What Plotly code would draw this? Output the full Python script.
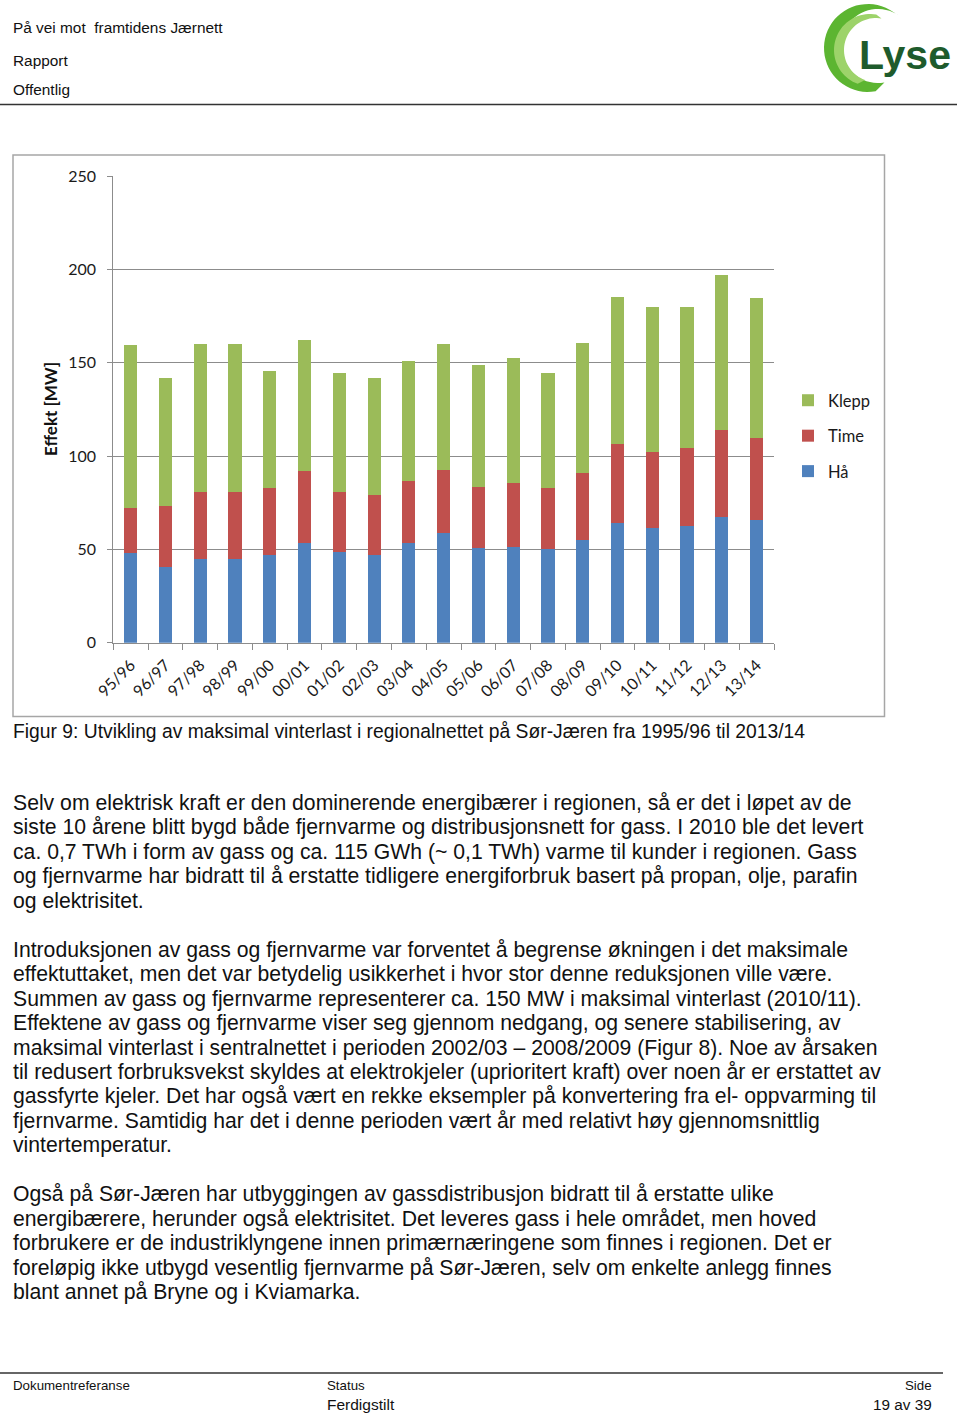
import math
import plotly.graph_objects as go

W, H = 960, 1413

seasons = ["95/96", "96/97", "97/98", "98/99", "99/00", "00/01", "01/02", "02/03", "03/04",
           "04/05", "05/06", "06/07", "07/08", "08/09", "09/10", "10/11", "11/12", "12/13", "13/14"]
ha = [47.9, 40.7, 45.0, 44.8, 47.0, 53.2, 48.6, 47.0, 53.2, 58.6,
      50.5, 51.1, 50.2, 55.0, 64.1, 61.6, 62.5, 67.3, 65.7]
time_ = [24.2, 32.5, 35.9, 36.1, 36.0, 38.8, 32.3, 32.1, 33.4, 34.1,
         32.9, 34.3, 32.8, 35.9, 42.5, 40.5, 41.6, 46.6, 44.1]
klepp = [87.4, 68.8, 79.3, 79.3, 62.5, 70.1, 63.4, 62.9, 64.3, 67.3,
         65.4, 66.9, 61.6, 69.8, 78.8, 77.5, 75.7, 83.2, 74.8]

series_names = ["Hå", "Time", "Klepp"]
series_colors = ["#4f81bd", "#c0504d", "#9bbb59"]
legend_ranks = [3, 2, 1]

header_lines = ["På vei mot  framtidens Jærnett", "Rapport", "Offentlig"]
caption = "Figur 9: Utvikling av maksimal vinterlast i regionalnettet på Sør-Jæren fra 1995/96 til 2013/14"
body_lines = [
    "Selv om elektrisk kraft er den dominerende energibærer i regionen, så er det i løpet av de",
    "siste 10 årene blitt bygd både fjernvarme og distribusjonsnett for gass. I 2010 ble det levert",
    "ca. 0,7 TWh i form av gass og ca. 115 GWh (~ 0,1 TWh) varme til kunder i regionen. Gass",
    "og fjernvarme har bidratt til å erstatte tidligere energiforbruk basert på propan, olje, parafin",
    "og elektrisitet.",
    None,
    "Introduksjonen av gass og fjernvarme var forventet å begrense økningen i det maksimale",
    "effektuttaket, men det var betydelig usikkerhet i hvor stor denne reduksjonen ville være.",
    "Summen av gass og fjernvarme representerer ca. 150 MW i maksimal vinterlast (2010/11).",
    "Effektene av gass og fjernvarme viser seg gjennom nedgang, og senere stabilisering, av",
    "maksimal vinterlast i sentralnettet i perioden 2002/03 – 2008/2009 (Figur 8). Noe av årsaken",
    "til redusert forbruksvekst skyldes at elektrokjeler (uprioritert kraft) over noen år er erstattet av",
    "gassfyrte kjeler. Det har også vært en rekke eksempler på konvertering fra el- oppvarming til",
    "fjernvarme. Samtidig har det i denne perioden vært år med relativt høy gjennomsnittlig",
    "vintertemperatur.",
    None,
    "Også på Sør-Jæren har utbyggingen av gassdistribusjon bidratt til å erstatte ulike",
    "energibærere, herunder også elektrisitet. Det leveres gass i hele området, men hoved",
    "forbrukere er de industriklyngene innen primærnæringene som finnes i regionen. Det er",
    "foreløpig ikke utbygd vesentlig fjernvarme på Sør-Jæren, selv om enkelte anlegg finnes",
    "blant annet på Bryne og i Kviamarka.",
]


def px(x):
    return x / W


def py(y):
    return 1 - y / H


fig = go.Figure()
for name, vals, col, rk in zip(series_names, [ha, time_, klepp], series_colors, legend_ranks):
    fig.add_trace(go.Bar(x=seasons, y=vals, name=name, marker_color=col,
                         marker_line_width=0, legendgroup=name, legendrank=rk))

CHART_FONT = "Lato, 'Open Sans', sans-serif"
TEXT_FONT = "'Liberation Sans', Arial, sans-serif"

fig.update_layout(
    width=W, height=H, autosize=False,
    margin=dict(l=0, r=0, t=0, b=0, pad=0, autoexpand=False),
    paper_bgcolor="white", plot_bgcolor="white",
    barmode="stack", bargap=0.62,
    font=dict(family=CHART_FONT, size=16, color="#1a1a1a"),
    legend=dict(x=px(788), y=py(383), xanchor="left", yanchor="top",
                traceorder="grouped", tracegroupgap=11,
                font=dict(family=CHART_FONT, size=16.5, color="#1a1a1a"),
                itemwidth=30, bgcolor="rgba(0,0,0,0)"),
    xaxis=dict(domain=[px(113.3), px(774)], type="category",
               tickangle=-45, ticks="outside", tickson="boundaries",
               ticklen=6, tickcolor="#8c8c8c", showline=True, linecolor="#8c8c8c",
               linewidth=1, showgrid=False, ticklabelstandoff=6,
               tickfont=dict(family=CHART_FONT, size=16, color="#1a1a1a")),
    yaxis=dict(domain=[py(642.7), py(176)], range=[0, 250], dtick=50,
               ticks="outside", ticklen=5, tickcolor="#8c8c8c",
               showline=True, linecolor="#8c8c8c", linewidth=1,
               showgrid=True, gridcolor="#8c8c8c", gridwidth=1,
               zeroline=False, ticklabelstandoff=8,
               tickfont=dict(family=CHART_FONT, size=16, color="#1a1a1a")),
)

annotations = []


def text(x, y, s, size, anchor="left", family=TEXT_FONT, color="#111111", bold=False, angle=0):
    annotations.append(dict(
        x=px(x), y=py(y), xref="paper", yref="paper", text=("<b>%s</b>" % s) if bold else s,
        showarrow=False, xanchor=anchor, yanchor="middle", textangle=angle,
        font=dict(family=family, size=size, color=color), borderpad=0))


# header
for s, y in zip(header_lines, [28, 61, 90]):
    text(12, y, s, 15.4)
# y axis title
text(50, 409, "Effekt [MW]", 17, anchor="center", family=CHART_FONT, bold=True, angle=-90)
# caption
text(12, 731, caption, 19.3)
# body
y = 803
for line in body_lines:
    if line is not None:
        text(12, y, line, 21.2)
    y += 24.45
# footer
text(12, 1385, "Dokumentreferanse", 13.3)
text(326, 1385, "Status", 13.3)
text(326, 1404, "Ferdigstilt", 15.5)
text(933, 1385, "Side", 13.3, anchor="right")
text(933, 1404, "19 av 39", 15.3, anchor="right")
# logo text
text(905, 55, "Lyse", 41, anchor="center", family="'Liberation Sans', sans-serif",
     color="#1e5b2c", bold=True)

fig.update_layout(annotations=annotations)

shapes = []
# header and footer rules
shapes.append(dict(type="line", xref="paper", yref="paper", x0=px(0), x1=px(957), y0=py(104.5), y1=py(104.5),
                   line=dict(color="#333333", width=1.5)))
shapes.append(dict(type="line", xref="paper", yref="paper", x0=px(0), x1=px(943), y0=py(1373), y1=py(1373),
                   line=dict(color="#333333", width=1.5)))
# chart border
shapes.append(dict(type="rect", xref="paper", yref="paper", x0=px(13), x1=px(884.5), y0=py(716.5), y1=py(155),
                   line=dict(color="#a6a6a6", width=1.5), fillcolor="rgba(0,0,0,0)", layer="below"))


# logo crescent (decorative)
def crescent(cx, cy, r, cx2, cy2, r2, a0, a1, n=40):
    pts = []
    for i in range(n + 1):
        a = math.radians(a0 + (a1 - a0) * i / n)
        pts.append((cx + r * math.cos(a), cy - r * math.sin(a)))
    for i in range(n + 1):
        a = math.radians(a1 + (a0 - a1) * i / n)
        pts.append((cx2 + r2 * math.cos(a), cy2 - r2 * math.sin(a)))
    d = "M " + " L ".join("%.5f,%.5f" % (px(x), py(y)) for x, y in pts) + " Z"
    return d


shapes.append(dict(type="path", xref="paper", yref="paper",
                   path=crescent(868, 48, 44, 878, 46, 37, 55, 280),
                   fillcolor="#5cb531", line=dict(width=0)))
shapes.append(dict(type="path", xref="paper", yref="paper",
                   path=crescent(870, 50, 36, 876, 50, 32, 80, 250),
                   fillcolor="#9dd36a", line=dict(width=0)))
fig.update_layout(shapes=shapes)

fig.write_html("out.html", config={"displayModeBar": False},
               post_script="document.body.style.margin='0';document.body.style.overflow='hidden';")
